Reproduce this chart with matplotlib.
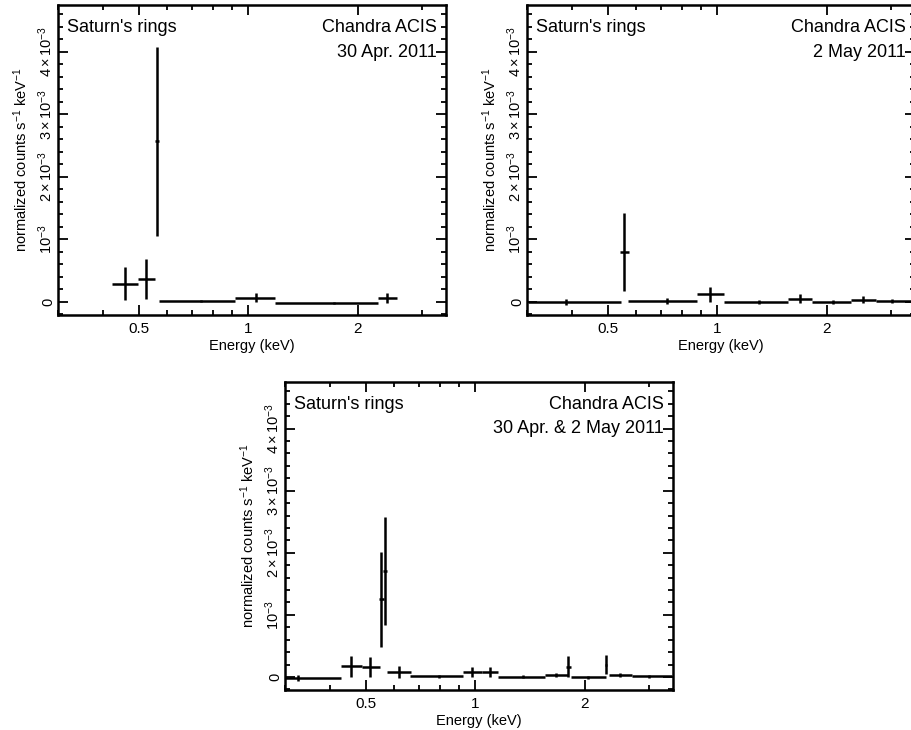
import numpy as np
import matplotlib
matplotlib.use("Agg")
import matplotlib.pyplot as plt
from matplotlib.ticker import FixedLocator, FixedFormatter, MultipleLocator, NullFormatter

plt.rcParams["font.family"] = ["Liberation Sans", "DejaVu Sans"]
plt.rcParams["mathtext.fontset"] = "custom"
plt.rcParams["mathtext.rm"] = "Liberation Sans"
plt.rcParams["mathtext.it"] = "Liberation Sans:italic"
plt.rcParams["mathtext.bf"] = "Liberation Sans:bold"

# --- 30 Apr. 2011 ---
apr_lo = [0.422, 0.497, 0.556, 0.568, 0.921, 1.187, 2.277]
apr_hi = [0.497, 0.556, 0.567, 0.921, 1.187, 2.277, 2.57]
apr_e = [0.458, 0.524, 0.5616, 0.743, 1.05, 1.717, 2.41]
apr_y = [2.9e-4, 3.7e-4, 2.57e-3, 1e-5, 6.4e-5, -1.6e-5, 6.4e-5]
apr_dy = [2.6e-4, 3.2e-4, 1.51e-3, 2e-5, 7e-5, 2e-5, 8e-5]

# --- 2 May 2011 ---
may_lo = [0.3015, 0.54, 0.570, 0.881, 1.043, 1.564, 1.825, 2.336, 2.727]
may_hi = [0.545, 0.574, 0.881, 1.043, 1.564, 1.825, 2.336, 2.727, 3.45]
may_e = [0.383, 0.556, 0.727, 0.958, 1.302, 1.695, 2.088, 2.525, 3.03]
may_y = [0.0, 8.0e-4, 1e-5, 1.18e-4, 0.0, 5.3e-5, 0.0, 3.7e-5, 1e-5]
may_dy = [5e-5, 6.2e-4, 5e-5, 1.2e-4, 3e-5, 7e-5, 3e-5, 5e-5, 3e-5]

# --- combined ---
both_lo = [0.30, 0.428, 0.487, 0.545, 0.557, 0.574, 0.661, 0.926, 1.043, 1.153,
           1.552, 1.78, 1.83, 2.28, 2.33, 2.70]
both_hi = [0.428, 0.487, 0.547, 0.560, 0.574, 0.665, 0.926, 1.043, 1.153, 1.552,
           1.797, 1.83, 2.285, 2.31, 2.70, 3.47]
both_e = [0.326, 0.457, 0.515, 0.551, 0.566, 0.618, 0.794, 0.983, 1.096, 1.355,
          1.664, 1.804, 2.047, 2.295, 2.51, 3.01]
both_y = [-2e-5, 1.7e-4, 1.6e-4, 1.25e-3, 1.70e-3, 8e-5, 1e-5, 7.5e-5, 7.5e-5, 5e-6,
          3.5e-5, 1.65e-4, -5e-6, 2.0e-4, 2.7e-5, 1e-5]
both_dy = [5e-5, 1.7e-4, 1.6e-4, 7.6e-4, 8.7e-4, 1e-4, 2e-5, 8e-5, 8e-5, 2e-5,
           3e-5, 1.7e-4, 2e-5, 1.6e-4, 3e-5, 2e-5]

x_major = [0.5, 1, 2]
x_major_labels = ["0.5", "1", "2"]
x_minor = [0.3, 0.4, 0.6, 0.7, 0.8, 0.9, 3]
y_major = [0, 1e-3, 2e-3, 3e-3, 4e-3]
y_major_labels = ["0", r"$10^{-3}$", r"$2\times10^{-3}$", r"$3\times10^{-3}$", r"$4\times10^{-3}$"]


def draw_panel(ax, lo, hi, e, y, dy, date):
    e = np.array(e)
    xerr = [e - np.array(lo), np.array(hi) - e]
    ax.errorbar(e, y, xerr=xerr, yerr=dy, fmt="none", ecolor="black",
                elinewidth=1.8, capsize=0)
    ax.set_xscale("log")
    ax.set_xlim(0.3, 3.5)
    ax.set_ylim(-2.1e-4, 4.75e-3)
    ax.xaxis.set_major_locator(FixedLocator(x_major))
    ax.xaxis.set_major_formatter(FixedFormatter(x_major_labels))
    ax.xaxis.set_minor_locator(FixedLocator(x_minor))
    ax.xaxis.set_minor_formatter(NullFormatter())
    ax.yaxis.set_major_locator(FixedLocator(y_major))
    ax.yaxis.set_major_formatter(FixedFormatter(y_major_labels))
    ax.yaxis.set_minor_locator(MultipleLocator(2e-4))
    ax.tick_params(which="both", direction="in", top=True, right=True, width=1.3)
    ax.tick_params(which="major", length=7)
    ax.tick_params(which="minor", length=3.5)
    ax.tick_params(axis="x", labelsize=11, pad=5)
    ax.tick_params(axis="y", labelsize=10.5, labelrotation=90, pad=2)
    for lab in ax.get_yticklabels():
        lab.set_va("center")
    for sp in ax.spines.values():
        sp.set_linewidth(1.8)
    ax.set_xlabel("Energy (keV)", fontsize=10.5, labelpad=2)
    ax.set_ylabel(r"normalized counts s$^{-1}$ keV$^{-1}$", fontsize=10.5, labelpad=5)
    ax.text(0.022, 0.926, "Saturn's rings", transform=ax.transAxes, fontsize=13,
            ha="left", va="center")
    ax.text(0.977, 0.926, "Chandra ACIS", transform=ax.transAxes, fontsize=13,
            ha="right", va="center")
    ax.text(0.977, 0.848, date, transform=ax.transAxes, fontsize=13,
            ha="right", va="center")


fig = plt.figure(figsize=(9.12, 7.30), dpi=100)
ax1 = fig.add_axes([58 / 912, 1 - 315 / 730, 388 / 912, 310 / 730])
ax2 = fig.add_axes([527 / 912, 1 - 315 / 730, 388 / 912, 310 / 730])
ax3 = fig.add_axes([285 / 912, 1 - 690 / 730, 388 / 912, 308 / 730])

draw_panel(ax1, apr_lo, apr_hi, apr_e, apr_y, apr_dy, "30 Apr. 2011")
draw_panel(ax2, may_lo, may_hi, may_e, may_y, may_dy, "2 May 2011")
draw_panel(ax3, both_lo, both_hi, both_e, both_y, both_dy, "30 Apr. & 2 May 2011")

fig.savefig("out.png", dpi=100)
